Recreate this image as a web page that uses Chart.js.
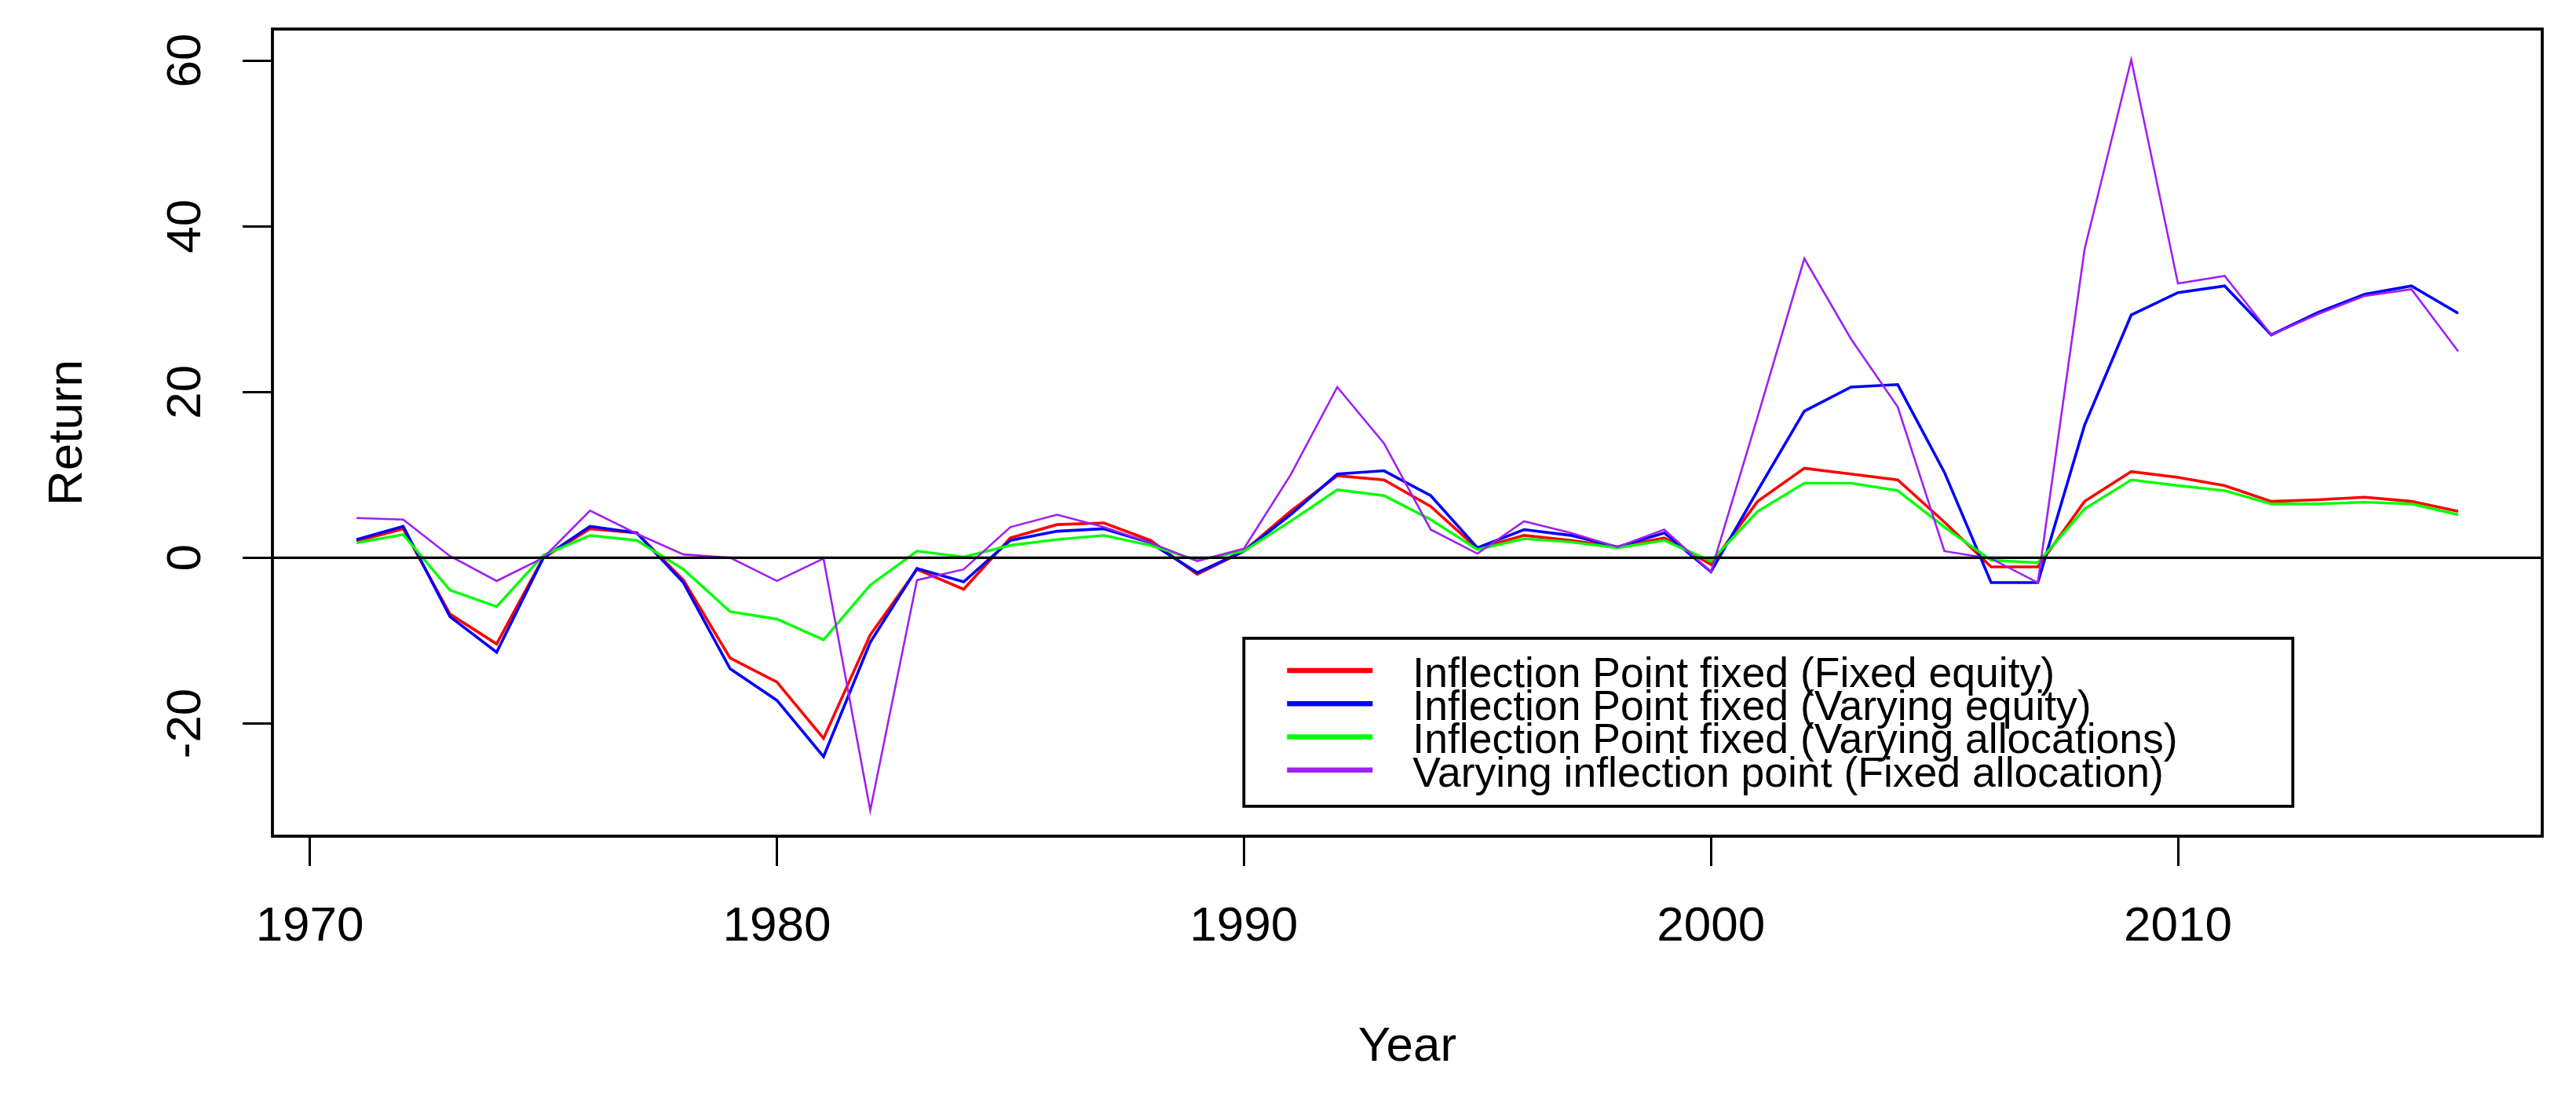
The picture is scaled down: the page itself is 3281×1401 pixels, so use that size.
<!DOCTYPE html>
<html lang="en">
<head>
  <meta charset="UTF-8" />
  <title>Return by Year</title>
  <script src="https://cdn.jsdelivr.net/npm/chart.js"></script>
  <style>
    html, body { margin: 0; padding: 0; background: #fff; }
    #wrap { width: 3281px; height: 1401px; }
  </style>
</head>
<body>
  <div id="wrap"><canvas id="returnChart" width="3281" height="1401"></canvas></div>

  <script>
    // data
    const years = [1971, 1972, 1973, 1974, 1975, 1976, 1977, 1978, 1979, 1980,
                   1981, 1982, 1983, 1984, 1985, 1986, 1987, 1988, 1989, 1990,
                   1991, 1992, 1993, 1994, 1995, 1996, 1997, 1998, 1999, 2000,
                   2001, 2002, 2003, 2004, 2005, 2006, 2007, 2008, 2009, 2010,
                   2011, 2012, 2013, 2014, 2015, 2016];

    const fixedEquity = [2.0, 3.5, -6.8, -10.4, 0.0, 3.5, 3.0, -2.7, -12.1, -15.0,
                         -21.8, -9.3, -1.4, -3.8, 2.4, 4.0, 4.2, 2.1, -2.0, 0.8,
                         5.6, 9.9, 9.4, 6.2, 1.1, 2.7, 2.1, 1.3, 2.4, -0.8,
                         6.8, 10.8, 10.1, 9.4, 4.3, -1.1, -1.1, 6.8, 10.4, 9.7,
                         8.7, 6.8, 7.0, 7.3, 6.8, 5.6];

    const varyingEquity = [2.2, 3.8, -7.1, -11.4, 0.0, 3.8, 3.0, -3.0, -13.4, -17.2,
                           -24.0, -10.2, -1.3, -2.9, 2.1, 3.2, 3.5, 1.8, -1.8, 0.8,
                           5.2, 10.1, 10.5, 7.5, 1.2, 3.4, 2.7, 1.3, 3.0, -1.7,
                           8.1, 17.7, 20.6, 20.9, 10.3, -3.0, -3.0, 16.0, 29.3, 32.0,
                           32.8, 26.9, 29.6, 31.8, 32.8, 29.5];

    const varyingAlloc = [1.8, 2.8, -3.9, -5.9, 0.3, 2.7, 2.1, -1.4, -6.5, -7.4,
                          -9.9, -3.3, 0.8, 0.1, 1.5, 2.2, 2.7, 1.5, -0.3, 0.8,
                          4.4, 8.2, 7.5, 4.6, 1.0, 2.3, 1.9, 1.2, 2.1, -0.4,
                          5.6, 9.0, 9.0, 8.1, 3.7, -0.3, -0.6, 5.9, 9.4, 8.7,
                          8.1, 6.5, 6.5, 6.7, 6.5, 5.2];

    const varyingInflection = [4.8, 4.6, 0.2, -2.8, 0.0, 5.7, 2.9, 0.4, 0.0, -2.8,
                               -0.1, -30.5, -2.7, -1.4, 3.7, 5.2, 3.7, 1.8, -0.4, 1.1,
                               10.0, 20.6, 13.8, 3.4, 0.5, 4.4, 3.0, 1.3, 3.4, -1.7,
                               17.0, 36.1, 26.4, 18.2, 0.8, -0.1, -3.0, 37.2, 60.1, 33.1,
                               34.0, 26.9, 29.4, 31.6, 32.4, 24.9];

    const seriesLabels = [
      'Inflection Point fixed (Fixed equity)',
      'Inflection Point fixed (Varying equity)',
      'Inflection Point fixed (Varying allocations)',
      'Varying inflection point (Fixed allocation)'
    ];
    const seriesValues = [fixedEquity, varyingEquity, varyingAlloc, varyingInflection];

    const xTickValues = [1970, 1980, 1990, 2000, 2010];
    const yTickValues = [-20, 0, 20, 40, 60];

    // R-ish look
    const FONT = '"Liberation Sans", Arial, sans-serif';
    const colors = ['#FF0000', '#0000FF', '#00FF00', '#A020F0'];
    const widths = [3.6, 3.6, 3.4, 2.6];

    const datasets = seriesValues.map((vals, i) => ({
      label: seriesLabels[i],
      data: years.map((yr, j) => ({ x: yr, y: vals[j] })),
      borderColor: colors[i],
      backgroundColor: colors[i],
      borderWidth: widths[i],
      pointRadius: 0,
      tension: 0,
      fill: false,
      order: 4 - i   // purple drawn last, like lines() in R
    }));

    // box, h=0 line and the legend
    const rFrame = {
      id: 'rFrame',
      afterDatasetsDraw(chart) {
        const { ctx, chartArea: a, scales } = chart;
        const y0 = scales.y.getPixelForValue(0);
        ctx.save();
        ctx.strokeStyle = '#000';
        ctx.lineWidth = 3.2;
        ctx.beginPath();
        ctx.moveTo(a.left, y0);
        ctx.lineTo(a.right, y0);
        ctx.stroke();
        ctx.lineWidth = 3.8;
        ctx.strokeRect(a.left, a.top, a.right - a.left, a.bottom - a.top);
        ctx.restore();
      },
      afterDraw(chart) {
        const { ctx, scales } = chart;
        const lx = scales.x.getPixelForValue(1990);
        const ly = scales.y.getPixelForValue(-10) - 3;
        ctx.save();
        ctx.fillStyle = '#fff';
        ctx.fillRect(lx, ly, 1336, 214);
        ctx.strokeStyle = '#000';
        ctx.lineWidth = 3.8;
        ctx.strokeRect(lx, ly, 1336, 214);
        ctx.font = '53.5px ' + FONT;
        ctx.textBaseline = 'middle';
        ctx.textAlign = 'left';
        chart.data.datasets.forEach((ds, i) => {
          const ry = ly + 41 + i * 42.3;
          ctx.strokeStyle = ds.borderColor;
          ctx.lineWidth = 6.5;
          ctx.beginPath();
          ctx.moveTo(lx + 55, ry);
          ctx.lineTo(lx + 164, ry);
          ctx.stroke();
          ctx.fillStyle = '#000';
          ctx.fillText(ds.label, lx + 215, ry + 6);
        });
        ctx.restore();
      }
    };

    const ctx = document.getElementById('returnChart').getContext('2d');
    new Chart(ctx, {
      type: 'line',
      data: { datasets: datasets },
      options: {
        responsive: false,
        animation: false,
        devicePixelRatio: 1,
        layout: { padding: { top: 37, right: 43, bottom: 0, left: 0 } },
        plugins: {
          legend: { display: false },
          tooltip: { enabled: false }
        },
        scales: {
          x: {
            type: 'linear',
            min: 1969.2,
            max: 2017.8,
            afterBuildTicks: s => { s.ticks = xTickValues.map(v => ({ value: v })); },
            afterFit: s => { s.height = 336; s.paddingLeft = 0; s.paddingRight = 0; },
            border: { display: false },
            grid: { drawOnChartArea: false, drawTicks: true, tickLength: 38, tickWidth: 3, tickColor: '#000' },
            ticks: {
              autoSkip: false, maxRotation: 0, padding: 41, color: '#000',
              font: { family: FONT, size: 62 },
              callback: v => String(v)
            },
            title: {
              display: true, text: 'Year', color: '#000',
              font: { family: FONT, size: 62 },
              padding: { top: 0, bottom: 30 }
            }
          },
          y: {
            type: 'linear',
            min: -33.6,
            max: 63.8,
            afterBuildTicks: s => { s.ticks = yTickValues.map(v => ({ value: v })); },
            afterFit: s => { s.width = 347; s.paddingTop = 0; s.paddingBottom = 0; },
            border: { display: false },
            grid: { drawOnChartArea: false, drawTicks: true, tickLength: 38, tickWidth: 3, tickColor: '#000' },
            ticks: {
              autoSkip: false, minRotation: 90, maxRotation: 90, crossAlign: 'center',
              padding: 26, color: '#000',
              font: { family: FONT, size: 62 },
              callback: v => String(v)
            },
            title: {
              display: true, text: 'Return', color: '#000',
              font: { family: FONT, size: 62 },
              padding: { top: 50, bottom: 0 }
            }
          }
        }
      },
      plugins: [rFrame]
    });
  </script>
</body>
</html>
